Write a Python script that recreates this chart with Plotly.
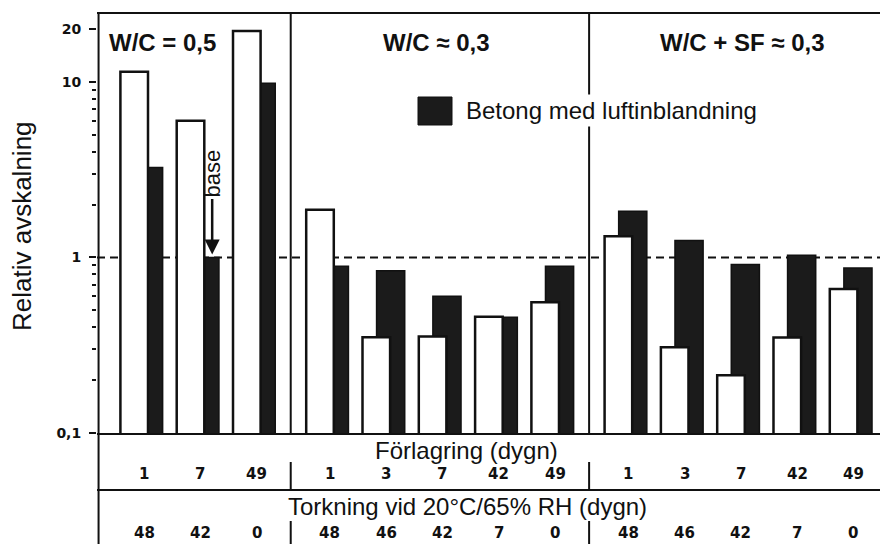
import math
import plotly.graph_objects as go

# ---------------- data ----------------
groups = ["W/C = 0,5", "W/C ≈ 0,3", "W/C + SF ≈ 0,3"]
forlagring = [[1, 7, 49], [1, 3, 7, 42, 49], [1, 3, 7, 42, 49]]
torkning = [[48, 42, 0], [48, 46, 42, 7, 0], [48, 46, 42, 7, 0]]
utan_luft = [[11.4, 6.0, 19.5],
             [1.87, 0.351, 0.355, 0.46, 0.555],
             [1.32, 0.308, 0.213, 0.35, 0.66]]
med_luft = [[3.25, 1.0, 9.8],
            [0.89, 0.84, 0.60, 0.456, 0.89],
            [1.83, 1.25, 0.91, 1.03, 0.87]]
y_tickvals = [0.1, 1, 10, 20]
y_ticktext = ["0,1", "1", "10", "20"]
legend_name = "Betong med luftinblandning"
y_title = "Relativ avskalning"
row1_title = "Förlagring (dygn)"
row2_title = "Torkning vid 20°C/65% RH (dygn)"
base_label = "base"

# ---------------- layout helpers ----------------
W, H = 880, 544
ML, MR, MT, MB = 97, 0, 13, 111
GROUP_GAP = 0.3
X0_PX, UNIT = 148.0, 56.3
XR = [(ML - X0_PX) / UNIT, (W - MR - X0_PX) / UNIT]
YR = [-1, 1.392]
PLOT_H = H - MT - MB


def xs(px):
    return (px - X0_PX) / UNIT


def py(px):
    return (H - MB - px) / PLOT_H


def yv(v):
    return (math.log10(v) - YR[0]) / (YR[1] - YR[0])


# positions of each category (computed from group / index)
pos, w_vals, b_vals, f_lab, t_lab, grp_of = [], [], [], [], [], []
k = 0
for g in range(len(groups)):
    for i in range(len(forlagring[g])):
        pos.append(k + GROUP_GAP * g)
        w_vals.append(utan_luft[g][i])
        b_vals.append(med_luft[g][i])
        f_lab.append(forlagring[g][i])
        t_lab.append(torkning[g][i])
        grp_of.append(g)
        k += 1

W_OFF, W_W = -0.49, 0.49
B_OFF, B_W = -0.24, 0.50

fig = go.Figure()
fig.add_trace(go.Bar(
    x=pos, y=b_vals, offset=B_OFF, width=B_W, name=legend_name,
    marker=dict(color="#1b1b1b", line=dict(color="#111", width=1.5)),
    showlegend=False))
fig.add_trace(go.Bar(
    x=pos, y=w_vals, offset=W_OFF, width=W_W, name="Betong utan luftinblandning",
    marker=dict(color="white", line=dict(color="#111", width=2.5)),
    showlegend=False))

shapes = []
LW = 2
# frame lines
shapes.append(dict(type="line", xref="paper", yref="paper", x0=0, x1=1, y0=1, y1=1,
                   line=dict(color="#111", width=LW)))
shapes.append(dict(type="line", xref="paper", yref="paper", x0=0.002, x1=0.002,
                   y0=py(H), y1=1, line=dict(color="#111", width=LW)))
shapes.append(dict(type="line", xref="paper", yref="paper", x0=0, x1=1,
                   y0=py(490), y1=py(490), line=dict(color="#111", width=LW)))
# dashed base line at 1
shapes.append(dict(type="line", xref="paper", yref="paper", x0=0, x1=1,
                   y0=yv(1), y1=yv(1), layer="below",
                   line=dict(color="#111", width=2, dash="8px,5px")))
# group dividers
for g in range(len(groups) - 1):
    last = max(p for p, gg in zip(pos, grp_of) if gg == g)
    first = min(p for p, gg in zip(pos, grp_of) if gg == g + 1)
    xd = ((last + B_OFF + B_W) + (first + W_OFF)) / 2
    shapes.append(dict(type="line", xref="x", yref="paper", x0=xd, x1=xd, y0=0, y1=1,
                       line=dict(color="#111", width=LW)))
    shapes.append(dict(type="line", xref="x", yref="paper", x0=xd, x1=xd,
                       y0=py(490), y1=py(462), line=dict(color="#111", width=LW)))
    shapes.append(dict(type="line", xref="x", yref="paper", x0=xd, x1=xd,
                       y0=py(H), y1=py(521), line=dict(color="#111", width=LW)))
# legend square
shapes.append(dict(type="rect", xref="x", yref="paper", x0=xs(418), x1=xs(452),
                   y0=py(125), y1=py(97), fillcolor="#1b1b1b",
                   line=dict(color="#111", width=1)))

TXT = "Liberation Sans, Arial, sans-serif"
NUM = "DejaVu Sans, sans-serif"
ann = []
# group titles
title_pos = [(xs(107), "left"), (xs(436), "center"), (xs(742), "center")]
for g, name in enumerate(groups):
    ann.append(dict(x=title_pos[g][0], y=py(43), xref="x", yref="paper",
                    text="<b>%s</b>" % name, showarrow=False,
                    xanchor=title_pos[g][1], yanchor="middle",
                    font=dict(family=TXT, size=24, color="#111")))
# legend text
ann.append(dict(x=xs(463), y=py(111), xref="x", yref="paper", text=legend_name,
                showarrow=False, xanchor="left", yanchor="middle", bgcolor="white",
                borderpad=2, font=dict(family=TXT, size=24, color="#111")))
# y title
ann.append(dict(x=(22 - ML) / (W - ML - MR), y=py(226), xref="paper", yref="paper",
                text=y_title, textangle=-90, showarrow=False,
                xanchor="center", yanchor="middle",
                font=dict(family=TXT, size=26, color="#111")))
# table rows
ann.append(dict(x=xs(466), y=py(450), xref="x", yref="paper", text=row1_title,
                showarrow=False, xanchor="center", yanchor="middle",
                font=dict(family=TXT, size=24, color="#111")))
ann.append(dict(x=xs(467), y=py(506), xref="x", yref="paper", text=row2_title,
                showarrow=False, xanchor="center", yanchor="middle",
                font=dict(family=TXT, size=24, color="#111")))
for p, f, t in zip(pos, f_lab, t_lab):
    ann.append(dict(x=p - 0.07, y=py(474), xref="x", yref="paper", text="<b>%s</b>" % f,
                    showarrow=False, xanchor="center", yanchor="middle",
                    font=dict(family=NUM, size=15, color="#111")))
    ann.append(dict(x=p - 0.07, y=py(533), xref="x", yref="paper", text="<b>%s</b>" % t,
                    showarrow=False, xanchor="center", yanchor="middle",
                    font=dict(family=NUM, size=15, color="#111")))
# base marker
ann.append(dict(x=pos[1] + 0.14, y=math.log10(1), xref="x", yref="y",
                text=base_label, textangle=-90, showarrow=True, ax=0, ay=-84,
                arrowhead=2, arrowsize=1.2, arrowwidth=2.5, arrowcolor="#111",
                standoff=3, font=dict(family=TXT, size=22, color="#111")))

fig.update_layout(
    width=W, height=H, margin=dict(l=ML, r=MR, t=MT, b=MB, pad=0),
    paper_bgcolor="white", plot_bgcolor="white", barmode="overlay",
    shapes=shapes, annotations=ann,
    xaxis=dict(range=XR, showgrid=False, zeroline=False, showticklabels=False,
               ticks="", showline=True, linecolor="#111", linewidth=LW),
    yaxis=dict(type="log", range=YR, showgrid=False, zeroline=False,
               tickvals=y_tickvals, ticktext=["<b>%s</b>" % t for t in y_ticktext],
               ticks="outside", ticklen=7, tickwidth=2, tickcolor="#111",
               ticklabelstandoff=5,
               tickfont=dict(family=NUM, size=14, color="#111"),
               showline=False,
               minor=dict(tickvals=[0.2, 0.3, 0.4, 0.5, 0.6, 0.7, 0.8, 0.9,
                                    2, 3, 4, 5, 6, 7, 8, 9],
                          ticks="outside", ticklen=4, tickwidth=1.5, tickcolor="#111",
                          showgrid=False)),
    showlegend=False,
)
fig.write_html("out.html")
